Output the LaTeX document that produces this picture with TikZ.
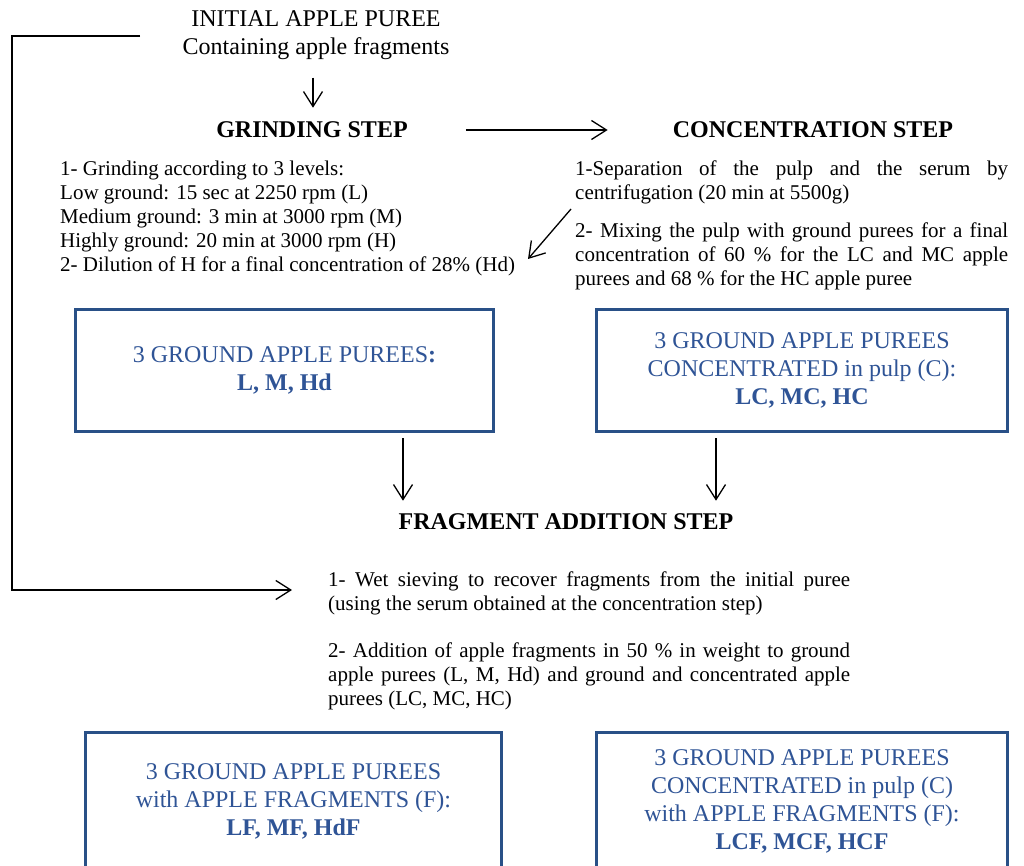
\documentclass[tikz,border=0pt]{standalone}
\usepackage{fontspec}
\setmainfont{Liberation Serif}
\usetikzlibrary{arrows.meta,calc}
\definecolor{boxblue}{RGB}{41,80,135}
\definecolor{txtblue}{RGB}{47,84,150}
\begin{document}
\begin{tikzpicture}[x=1pt,y=-1pt,
  big/.style={font=\fontsize{24}{28}\selectfont, align=center, inner sep=0pt},
  small/.style={font=\fontsize{21}{24}\selectfont, inner sep=0pt},
  head/.style={font=\fontsize{24}{28}\selectfont\bfseries, inner sep=0pt},
  arr/.style={-{Straight Barb[length=15pt,width=19pt]}, line width=1.3pt},
  bluebox/.style={draw=boxblue, line width=3pt, text=txtblue, font=\fontsize{24}{28}\selectfont, align=center, inner sep=0pt},
]
\useasboundingbox (0,0) rectangle (1024,866);
\clip (0,0) rectangle (1024,866);

% top
\node[big] (init) at (316,35) {INITIAL APPLE PUREE\\Containing apple fragments};
\node[head] (grind) at (312,130) {GRINDING STEP};
\node[head] (conc) at (813,130) {CONCENTRATION STEP};

\draw[arr] ($(init.south)+(-3,18)$) -- ($(grind.north)+(1,-14)$);
\draw[arr] ($(grind.east)+(58,0)$) -- ($(conc.west)+(-65,0)$);

% grinding text
\node[small, anchor=north west, align=left] (gtext) at (60,160.5) {1- Grinding according to 3 levels:\\
Low ground: 15 sec at 2250 rpm (L)\\
Medium ground: 3 min at 3000 rpm (M)\\
Highly ground: 20 min at 3000 rpm (H)\\
2- Dilution of H for a final concentration of 28\% (Hd)};

% concentration text
\node[small, anchor=north west, text width=433pt, align=justify] (ctext1) at (575,160.5) {1-Separation of the pulp and the serum by\linebreak centrifugation (20 min at 5500g)};
\node[small, anchor=north west, text width=433pt, align=justify] (ctext2) at (575,222.5) {2- Mixing the pulp with ground purees for a final\linebreak concentration of 60 \% for the LC and MC apple\linebreak purees and 68 \% for the HC apple puree};

\coordinate (d1) at (571,209);
\coordinate (d2) at (528,259);
\draw[arr] (d1) -- (d2);

% boxes
\node[bluebox, minimum width=418pt, minimum height=122pt] (b1) at (284.5,370.5) {3 GROUND APPLE PUREES\textbf{:}\\\textbf{L, M, Hd}};
\node[bluebox, minimum width=411pt, minimum height=122pt] (b2) at (802,370.5) {3 GROUND APPLE PUREES\\CONCENTRATED in pulp (C):\\\textbf{LC, MC, HC}};

\node[head] (frag) at (566,522) {FRAGMENT ADDITION STEP};

\draw[arr] ($(b1.south)+(118.5,5)$) -- ($(frag.north)+(-163,-13)$);
\draw[arr] ($(b2.south)+(-86,5)$) -- ($(frag.north)+(150,-13)$);

% fragment text
\node[small, anchor=north west, text width=522pt, align=justify] (ftext1) at (328,571.5) {1- Wet sieving to recover fragments from the initial puree\linebreak (using the serum obtained at the concentration step)};
\node[small, anchor=north west, text width=522pt, align=justify] (ftext2) at (328,642.5) {2- Addition of apple fragments in 50 \% in weight to ground\linebreak apple purees (L, M, Hd) and ground and concentrated apple\linebreak purees (LC, MC, HC)};

% loop connector
\coordinate (l1) at (140,36);
\coordinate (l2) at (12,36);
\coordinate (l3) at (12,590);
\coordinate (l4) at (292,590);
\draw[arr] (l1) -- (l2) -- (l3) -- (l4);

% bottom boxes
\node[bluebox, minimum width=416pt, minimum height=137pt] (b3) at (293.5,801) {3 GROUND APPLE PUREES\\with APPLE FRAGMENTS (F):\\\textbf{LF, MF, HdF}};
\node[bluebox, minimum width=411pt, minimum height=137pt] (b4) at (802,801) {3 GROUND APPLE PUREES\\CONCENTRATED in pulp (C)\\with APPLE FRAGMENTS (F):\\\textbf{LCF, MCF, HCF}};
\end{tikzpicture}
\end{document}
